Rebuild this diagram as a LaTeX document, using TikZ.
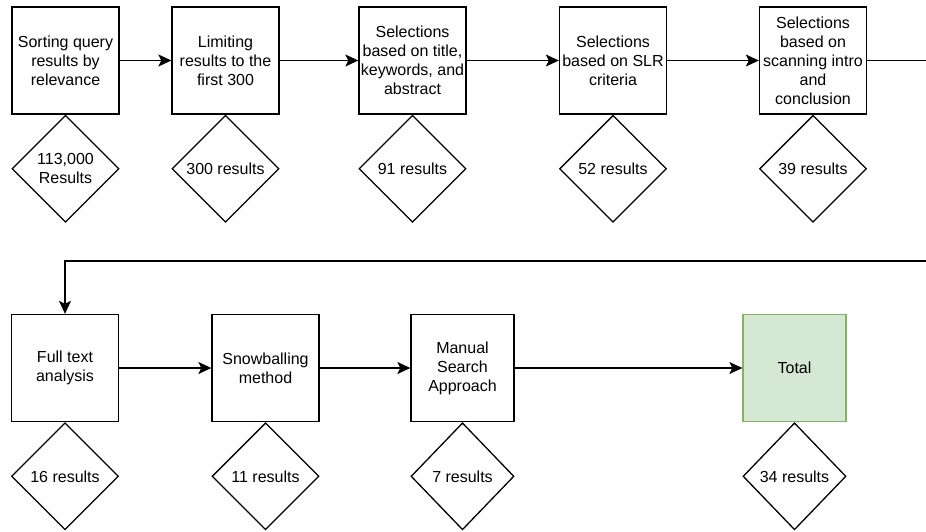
\documentclass[tikz,border=0pt]{standalone}
\usepackage{fontspec}
\setmainfont{Liberation Sans}
\usepackage{xcolor}
\usetikzlibrary{positioning, arrows.meta, shapes.geometric}
\definecolor{totalfill}{HTML}{D5E8D4}
\definecolor{totalline}{HTML}{82B366}
\tikzset{
    stepbox/.style={ % Sets the properties for each processing step
        draw, line width=1.3pt,
        minimum width=107pt, minimum height=107pt,
        inner sep=1pt, align=center,
        font=\fontsize{16}{19}\selectfont
    },
    countbox/.style={ % Result counts under each step
        draw, diamond, aspect=1, line width=1.3pt,
        minimum width=107pt, minimum height=107pt,
        inner sep=0pt, align=center,
        font=\fontsize{16}{19}\selectfont
    },
    totalbox/.style={
        stepbox, fill=totalfill, draw=totalline
    },
    flow/.style={ % Sets the properties for each connector
        draw, line width=1.3pt,
        -{Stealth[length=13pt,width=12pt,inset=3pt]}
    }
}
\begin{document}
\begin{tikzpicture}
           \useasboundingbox (0pt,-531pt) rectangle (926pt,0pt);
           \begin{scope}[x=1pt, y=-1pt]
           % first row
           \node[stepbox]                              (b1) at (65.5,60.5) {Sorting query\\results by\\relevance};
           \node[stepbox]                              (b2) at (225.5,60.5) {Limiting\\results to the\\first 300};
           \node[stepbox]                              (b3) at (412.5,60.5) {Selections\\based on title,\\keywords, and\\abstract};
           \node[stepbox]                              (b4) at (613,60.5) {Selections\\based on SLR\\criteria};
           \node[stepbox]                              (b5) at (813,60.5) {Selections\\based on\\scanning intro\\and\\conclusion};
           \node[countbox, below=0pt of b1]            (d1) {113,000\\Results};
           \node[countbox, below=0pt of b2]            (d2) {300 results};
           \node[countbox, below=0pt of b3]            (d3) {91 results};
           \node[countbox, below=0pt of b4]            (d4) {52 results};
           \node[countbox, below=0pt of b5]            (d5) {39 results};
           % second row
           \node[stepbox]                              (b6) at (65,368) {Full text\\analysis};
           \node[stepbox]                              (b7) at (265.5,368) {Snowballing\\method};
           \node[stepbox, minimum width=103pt]         (b8) at (462.5,368) {Manual\\Search\\Approach};
           \node[totalbox, minimum width=103pt]        (b9) at (794.5,368) {Total};
           \node[countbox, below=0pt of b6]            (d6) {16 results};
           \node[countbox, below=0pt of b7]            (d7) {11 results};
           \node[countbox, minimum width=103pt, below=0pt of b8] (d8) {7 results};
           \node[countbox, minimum width=103pt, below=0pt of b9] (d9) {34 results};
           \coordinate (turnA) at (935,60.5);
           \coordinate (turnB) at (935,261);
           \end{scope}
           \draw[flow] (b1) -- (b2);
           \draw[flow] (b2) -- (b3);
           \draw[flow] (b3) -- (b4);
           \draw[flow] (b4) -- (b5);
           \draw[flow] (b6) -- (b7);
           \draw[flow] (b7) -- (b8);
           \draw[flow] (b8) -- (b9);
           \draw[flow] (b5) -- (turnA) -- (turnB) -| (b6);
       \end{tikzpicture}
\end{document}
